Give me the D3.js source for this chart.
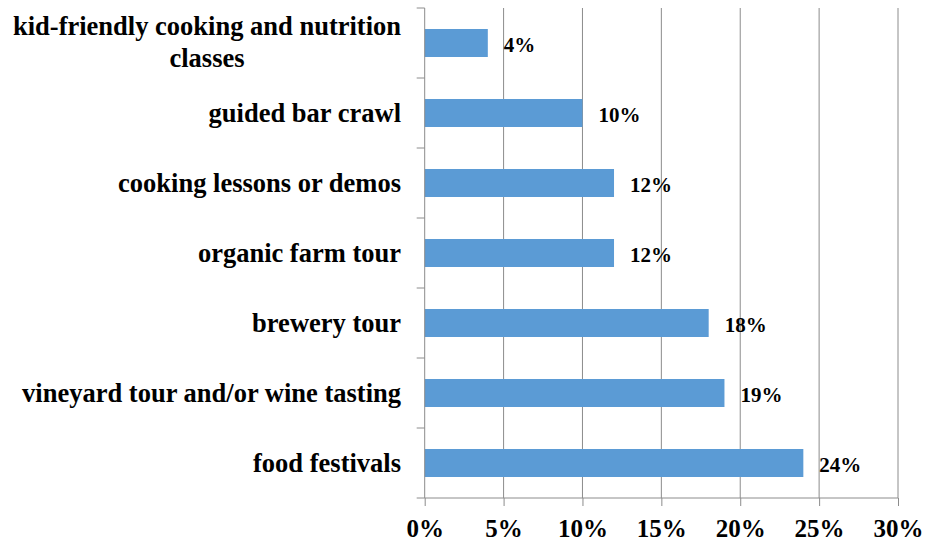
<!DOCTYPE html>
<html>
<head>
<meta charset="utf-8">
<script src="https://cdn.jsdelivr.net/npm/d3@7"></script>
<style>
body { margin: 0; background: #fff; }
svg text { font-family: "Liberation Serif", "Times New Roman", serif; font-weight: bold; fill: #000; }
</style>
</head>
<body>
<div class="container"></div>
<script>
var width = 925;
var height = 542;

var categories = ['kid-friendly cooking and nutrition|classes', 'guided bar crawl', 'cooking lessons or demos',
  'organic farm tour', 'brewery tour', 'vineyard tour and/or wine tasting', 'food festivals'];
var values = [4, 10, 12, 12, 18, 19, 24];
var xTicks = [0, 5, 10, 15, 20, 25, 30];

var plotLeft = 424.7, plotRight = 898, plotTop = 8, plotBottom = 498;

var translate = function(x, y) {
  return 'translate(' + x + ',' + y + ')';
};

var draw = function() {
  var svg = d3.select('.container').append('svg')
    .attr('width', width)
    .attr('height', height);

  var x = d3.scaleLinear().domain([0, 30]).range([plotLeft, plotRight]);
  var y = d3.scaleBand().domain(categories).range([plotTop, plotBottom]).paddingInner(0.6).paddingOuter(0.3);
  var yEdges = d3.range(categories.length + 1).map(function(i) {
    return plotTop + i * (plotBottom - plotTop) / categories.length;
  });

  // vertical gridlines
  svg.append('g').selectAll('line').data(xTicks.slice(1)).enter().append('line')
    .attr('x1', function(d) { return x(d); }).attr('x2', function(d) { return x(d); })
    .attr('y1', plotTop).attr('y2', plotBottom)
    .attr('stroke', '#8c8c8c').attr('stroke-width', 1);

  // bars
  svg.append('g').selectAll('rect').data(values).enter().append('rect')
    .attr('x', x(0))
    .attr('y', function(d, i) { return y(categories[i]); })
    .attr('width', function(d) { return x(d) - x(0); })
    .attr('height', y.bandwidth())
    .attr('fill', '#5b9bd5');

  // y axis line and ticks
  var yAxis = svg.append('g');
  yAxis.append('line').attr('x1', plotLeft).attr('x2', plotLeft).attr('y1', plotTop).attr('y2', plotBottom)
    .attr('stroke', '#8c8c8c');
  yAxis.selectAll('.yt').data(yEdges).enter().append('line')
    .attr('x1', plotLeft - 8).attr('x2', plotLeft)
    .attr('y1', function(d) { return d; }).attr('y2', function(d) { return d; })
    .attr('stroke', '#8c8c8c');

  // x axis
  var xAxis = d3.axisBottom(x).tickValues(xTicks).tickSize(8).tickPadding(10)
    .tickFormat(function(d) { return d + '%'; });
  var gx = svg.append('g').attr('transform', translate(0, plotBottom)).call(xAxis);
  gx.select('.domain').attr('stroke', '#8c8c8c').attr('d', 'M' + plotLeft + ',0H' + plotRight);
  gx.selectAll('.tick line').attr('stroke', '#8c8c8c');
  gx.selectAll('.tick text').attr('font-size', 25).attr('dy', null).attr('y', 39);

  // category labels
  var labels = svg.append('g').selectAll('text').data(categories).enter().append('text')
    .attr('font-size', 26.5)
    .attr('text-anchor', 'end');
  labels.each(function(d) {
    var lines = d.split('|');
    var t = d3.select(this);
    var cy = y(d) + y.bandwidth() / 2;
    if (lines.length === 1) {
      t.attr('x', 401).attr('y', cy + 8.7).text(d);
    } else {
      t.attr('text-anchor', 'middle');
      var spans = t.selectAll('tspan').data(lines).enter().append('tspan').text(function(s) { return s; });
      var w = d3.max(spans.nodes(), function(n) { return n.getComputedTextLength(); });
      spans.attr('x', 401 - w / 2)
        .attr('y', function(s, i) { return cy - 8 + i * 31.5; });
    }
  });

  // value labels
  svg.append('g').selectAll('text').data(values).enter().append('text')
    .attr('font-size', 21)
    .attr('x', function(d) { return x(d) + 16; })
    .attr('y', function(d, i) { return y(categories[i]) + y.bandwidth() / 2 + 8.7; })
    .text(function(d) { return d + '%'; });
};

window.onload = draw;
</script>
</body>
</html>
